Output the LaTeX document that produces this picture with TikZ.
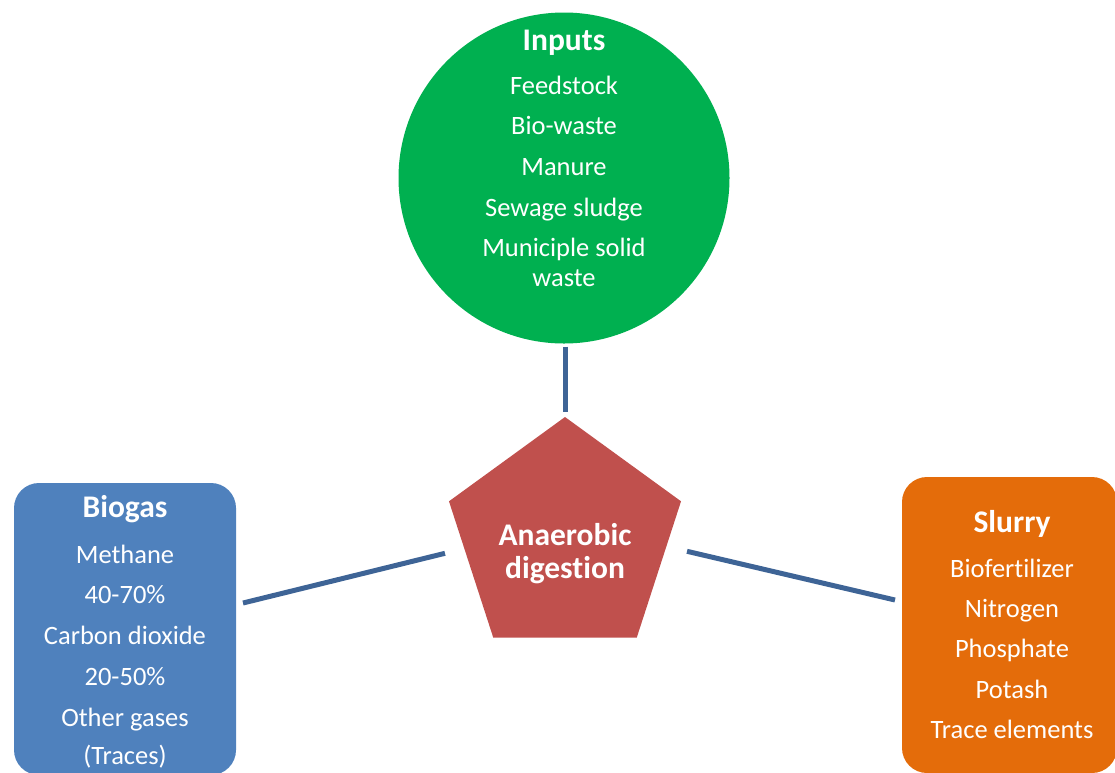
\documentclass[tikz,border=0pt]{standalone}
\usepackage{fontspec}
\setmainfont{Carlito}[RawFeature={-liga;-clig;-calt;-dlig}]
\usetikzlibrary{shapes.geometric,calc}

\definecolor{inGreen}{HTML}{00B050}
\definecolor{gasBlue}{HTML}{4F81BD}
\definecolor{slurryOrange}{HTML}{E46C0A}
\definecolor{digestRed}{HTML}{C0504D}
\definecolor{linkBlue}{HTML}{3E6496}

\tikzset{
  shapebox/.style={draw=none, inner sep=0pt, outer sep=0pt},
  panel/.style={shapebox, rectangle, rounded corners=25pt},
  head/.style={text=white, anchor=base, inner sep=0pt, font=\fontsize{31.5}{36}\selectfont\bfseries},
  item/.style={text=white, anchor=base, inner sep=0pt, font=\fontsize{26.5}{31}\selectfont},
  link/.style={draw=linkBlue, line width=5pt}
}

\begin{document}
\begin{tikzpicture}[x=1pt, y=-1pt]
  \useasboundingbox (0,0) rectangle (1115,772);
  \clip (0,0) rectangle (1115,772);

  % shapes
  \node[shapebox, circle, fill=inGreen, minimum size=331pt] (inputs) at (564,178) {};
  \node[shapebox, regular polygon, regular polygon sides=5, fill=digestRed,
        minimum size=244pt] (digest) at (565,539) {};
  \node[panel, fill=gasBlue, minimum width=222pt, minimum height=292pt] (biogas) at (125,629) {};
  \node[panel, fill=slurryOrange, minimum width=215pt, minimum height=296pt] (slurry) at (1009.5,625) {};

  % connectors
  \draw[link] ($(inputs.south)+(1,3)$) -- ($(digest.corner 1)+(0,-5)$);
  \draw[link] ($(biogas.north east)+(7,120)$) -- ($(digest.corner 2)+(-4,52)$);
  \draw[link] ($(digest.corner 5)+(6,50)$) -- ($(slurry.north west)+(-7,123)$);

  % Inputs
  \node[head] (inputs-title) at (564,50) {Inputs};
  \foreach \t/\y [count=\i] in {Feedstock/94, Bio-waste/134, Manure/175,
      Sewage sludge/216, Municiple solid/256, waste/286}
    \node[item] (inputs-\i) at (564,\y) {\t};

  % Anaerobic digestion
  \node[head] (digest-l1) at (565,545) {Anaerobic};
  \node[head] (digest-l2) at (565,578) {digestion};

  % Biogas
  \node[head] (biogas-title) at (125,517) {Biogas};
  \foreach \t/\y [count=\i] in {Methane/563, 40-70\%/603, Carbon dioxide/644,
      20-50\%/685, Other gases/726, (Traces)/764}
    \node[item] (biogas-\i) at (125,\y) {\t};

  % Slurry
  \node[head] (slurry-title) at (1012,532) {Slurry};
  \foreach \t/\y [count=\i] in {Biofertilizer/577, Nitrogen/617, Phosphate/657,
      Potash/698, Trace elements/738}
    \node[item] (slurry-\i) at (1012,\y) {\t};
\end{tikzpicture}
\end{document}
